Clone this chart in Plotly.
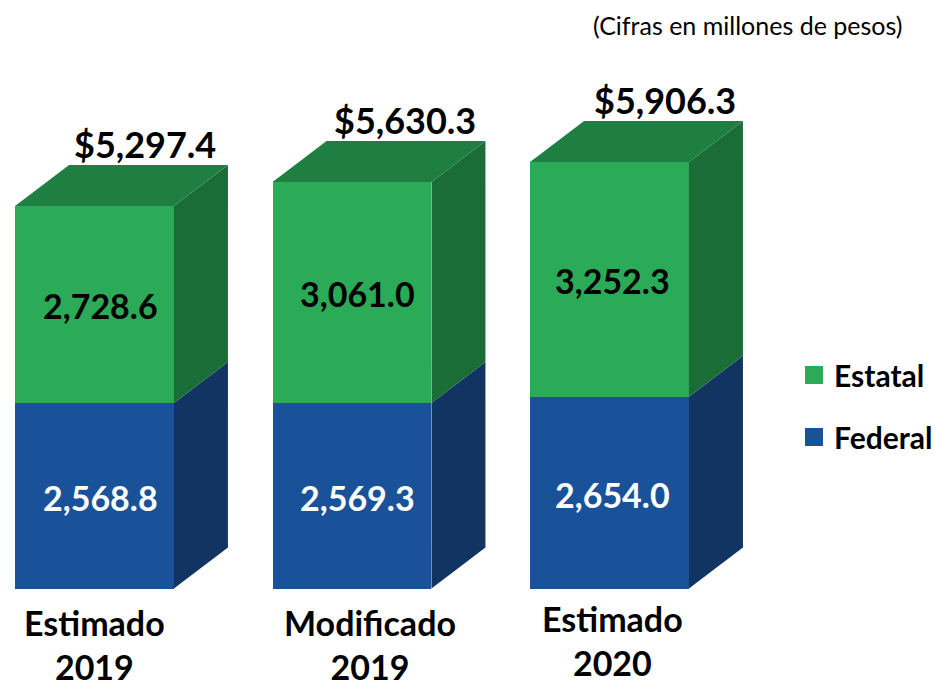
import plotly.graph_objects as go

categories = ["Estimado<br>2019", "Modificado<br>2019", "Estimado<br>2020"]
federal = [2568.8, 2569.3, 2654.0]
estatal = [2728.6, 3061.0, 3252.3]
totals = [5297.4, 5630.3, 5906.3]

positions = [0, 1, 2]
BAR_W = 0.617
DEPTH_X = 0.2097
DEPTH_Y = 568

GREEN, GREEN_TOP, GREEN_SIDE = "#2bab58", "#1f7f43", "#1b6d38"
BLUE, BLUE_SIDE = "#1a5299", "#123462"
FONT = "Lato"

fig = go.Figure()


def poly(xs, ys, color):
    fig.add_trace(go.Scatter(x=xs, y=ys, mode="lines", fill="toself", fillcolor=color,
                             line=dict(width=0), hoverinfo="skip", showlegend=False))


for p, f, e in zip(positions, federal, estatal):
    r = p + BAR_W / 2
    l = p - BAR_W / 2
    t = f + e
    poly([r, r + DEPTH_X, r + DEPTH_X, r, r], [0, DEPTH_Y, f + DEPTH_Y, f, 0], BLUE_SIDE)
    poly([r, r + DEPTH_X, r + DEPTH_X, r, r], [f, f + DEPTH_Y, t + DEPTH_Y, t, f], GREEN_SIDE)
    poly([l, l + DEPTH_X, r + DEPTH_X, r, l], [t, t + DEPTH_Y, t + DEPTH_Y, t, t], GREEN_TOP)

fig.add_trace(go.Bar(x=positions, y=federal, width=BAR_W, marker=dict(color=BLUE, line=dict(width=0)),
                     hoverinfo="y", showlegend=False))
fig.add_trace(go.Bar(x=positions, y=estatal, width=BAR_W, marker=dict(color=GREEN, line=dict(width=0)),
                     hoverinfo="y", showlegend=False))

# legend entries
for name, color in (("Estatal", GREEN), ("Federal", BLUE)):
    fig.add_trace(go.Scatter(x=[None], y=[None], mode="markers", name=name, legendgroup=name,
                             marker=dict(symbol="square", size=16, color=color,
                                         line=dict(width=2, color=color))))

label_dx = [6, 5, 3]
total_dx = [50, 53, 55]
cat_dx = [0, 18, 3]
cat_dy = [0, 0, 4]

ann = []
for i, p in enumerate(positions):
    ann.append(dict(x=p, y=federal[i] / 2, text=f"{federal[i]:,.1f}", xshift=label_dx[i], yshift=-2,
                    font=dict(family=FONT, size=34, color="white", weight="bold")))
    ann.append(dict(x=p, y=federal[i] + estatal[i] / 2, text=f"{estatal[i]:,.1f}", xshift=label_dx[i], yshift=-1,
                    font=dict(family=FONT, size=34, color="black", weight="bold")))
    ann.append(dict(x=p, y=totals[i] + DEPTH_Y, text=f"${totals[i]:,.1f}", xshift=total_dx[i], yshift=21,
                    font=dict(family=FONT, size=36, color="black", weight="bold")))
    ann.append(dict(x=p, y=0, text=categories[i], xshift=cat_dx[i], yshift=-56 + cat_dy[i],
                    font=dict(family=FONT, size=34, color="black", weight="bold")))
for a in ann:
    a.update(xref="x", yref="y", showarrow=False, xanchor="center", yanchor="middle")
ann.append(dict(x=747 / 935, y=1 - 25 / 681, xref="paper", yref="paper", showarrow=False,
                xanchor="center", yanchor="middle", text="(Cifras en millones de pesos)",
                font=dict(family=FONT, size=25, color="black")))

fig.update_layout(
    width=935, height=681, margin=dict(l=0, r=0, t=0, b=0, autoexpand=False),
    paper_bgcolor="white", plot_bgcolor="white", barmode="stack", annotations=ann,
    xaxis=dict(range=[-0.367, 3.264], visible=False, fixedrange=True),
    yaxis=dict(range=[-1281, 8150], visible=False, fixedrange=True),
    legend=dict(x=794 / 935, y=1 - 349 / 681, xanchor="left", yanchor="top",
                font=dict(family=FONT, size=30, color="black", weight="bold"),
                traceorder="grouped", tracegroupgap=20, bgcolor="rgba(0,0,0,0)"),
)
fig.write_html("out.html", post_script="document.body.style.margin='0';document.body.style.overflow='hidden';",
               config={"displayModeBar": False})
